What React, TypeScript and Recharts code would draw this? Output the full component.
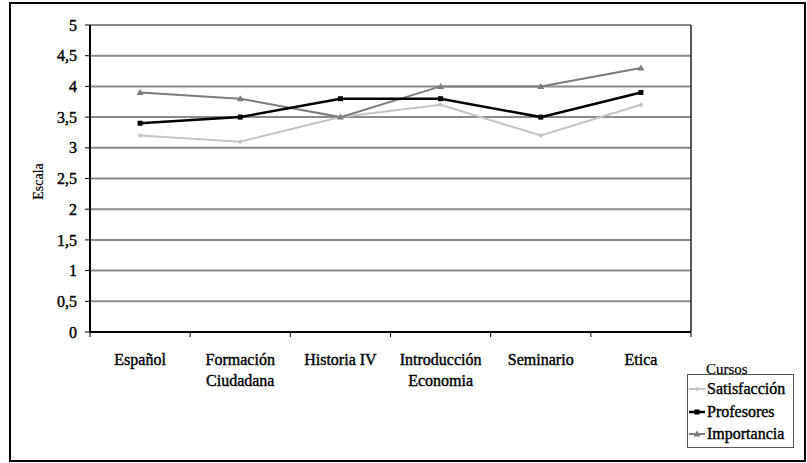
import React from 'react';
import { LineChart, Line, XAxis, YAxis, CartesianGrid } from 'recharts';

const categories = ['Español', 'Formación\nCiudadana', 'Historia IV', 'Introducción\nEconomia', 'Seminario', 'Etica'];
const satisfaccion = [3.2, 3.1, 3.5, 3.7, 3.2, 3.7];
const profesores = [3.4, 3.5, 3.8, 3.8, 3.5, 3.9];
const importancia = [3.9, 3.8, 3.5, 4.0, 4.0, 4.3];
const yTicks = [0, 0.5, 1, 1.5, 2, 2.5, 3, 3.5, 4, 4.5, 5];
const boundaryTicks = [0, 1, 2, 3, 4, 5, 6];
const centerTicks = [0.5, 1.5, 2.5, 3.5, 4.5, 5.5];

const series = [
  { key: 'satisfaccion', name: 'Satisfacción', color: '#c4c4c4', width: 2, marker: 'diamond' },
  { key: 'importancia', name: 'Importancia', color: '#7c7c7c', width: 2, marker: 'triangle' },
  { key: 'profesores', name: 'Profesores', color: '#000000', width: 2.5, marker: 'square' },
];
const legendOrder = ['satisfaccion', 'profesores', 'importancia'];

const data = categories.map((name, i) => ({
  name,
  pos: centerTicks[i],
  satisfaccion: satisfaccion[i],
  profesores: profesores[i],
  importancia: importancia[i],
}));

const FONT = 'Liberation Serif';

function Marker({ cx, cy, kind, color }: { cx?: number; cy?: number; kind: string; color: string }) {
  if (cx == null || cy == null) return null;
  if (kind === 'square') return <rect x={cx - 2.5} y={cy - 2.5} width={5} height={5} fill={color} />;
  if (kind === 'triangle')
    return <polygon points={`${cx},${cy - 3.5} ${cx + 3.5},${cy + 2.5} ${cx - 3.5},${cy + 2.5}`} fill={color} />;
  return <polygon points={`${cx},${cy - 2.5} ${cx + 2.5},${cy} ${cx},${cy + 2.5} ${cx - 2.5},${cy}`} fill={color} />;
}

function CatTick({ x, y, payload }: { x?: number; y?: number; payload?: { value: number } }) {
  const idx = centerTicks.indexOf(Number(payload?.value));
  const lines = String(categories[idx] ?? '').split('\n');
  return (
    <text x={x} y={y} textAnchor="middle" fontFamily={FONT} fontSize={16} fill="#000" stroke="#000" strokeWidth={0.4}>
      {lines.map((l, i) => (
        <tspan key={i} x={x} dy={i === 0 ? 25 : 21}>{l}</tspan>
      ))}
    </text>
  );
}

function EscalaLabel({ viewBox }: { viewBox?: { x: number; y: number; width: number; height: number } }) {
  if (!viewBox) return null;
  const cx = 38;
  const cy = viewBox.y + viewBox.height / 2 + 3;
  return (
    <text x={cx} y={cy} transform={`rotate(-90 ${cx} ${cy})`} textAnchor="middle" dominantBaseline="central"
      fontFamily={FONT} fontSize={14} fill="#000" stroke="#000" strokeWidth={0.2}>
      Escala
    </text>
  );
}

export default function App() {
  return (
    <div style={{ position: 'absolute', left: 0, top: 0, width: 807, height: 463, background: '#fff', fontFamily: FONT }}>
      <div style={{ position: 'absolute', left: 9, top: 2, width: 797, height: 460, border: '2px solid #000', boxSizing: 'border-box' }} />
      <LineChart width={807} height={463} data={data} margin={{ top: 25, right: 115, left: 30, bottom: 63 }}>
        <CartesianGrid xAxisId="a" yAxisId="l" vertical={false} stroke="#8a8a8a" strokeWidth={2} />
        <XAxis
          xAxisId="a"
          type="number"
          dataKey="pos"
          domain={[0, 6]}
          ticks={boundaryTicks}
          allowDataOverflow
          tick={() => <g />}
          tickSize={5}
          height={8}
          axisLine={{ stroke: '#000', strokeWidth: 2 }}
          tickLine={{ stroke: '#000' }}
        />
        <XAxis
          xAxisId="c"
          type="number"
          dataKey="pos"
          domain={[0, 6]}
          ticks={centerTicks}
          allowDataOverflow
          interval={0}
          axisLine={false}
          tickLine={false}
          tickSize={0}
          tickMargin={0}
          height={60}
          tick={<CatTick />}
        />
        <YAxis
          yAxisId="l"
          domain={[0, 5]}
          ticks={yTicks}
          width={60}
          tickSize={5}
          tickMargin={8}
          axisLine={{ stroke: '#000', strokeWidth: 2 }}
          tickLine={{ stroke: '#000' }}
          tick={{ fontFamily: FONT, fontSize: 16, fill: '#000', stroke: '#000', strokeWidth: 0.4 }}
          tickFormatter={(v: number) => String(v).replace('.', ',')}
          label={<EscalaLabel />}
        />
        <YAxis
          yAxisId="r"
          orientation="right"
          domain={[0, 5]}
          width={1}
          tick={false}
          tickLine={false}
          axisLine={{ stroke: '#222', strokeWidth: 1.5 }}
        />
        {series.map((s) => (
          <Line
            key={s.key}
            xAxisId="a"
            yAxisId="l"
            type="linear"
            dataKey={s.key}
            name={s.name}
            stroke={s.color}
            strokeWidth={s.width}
            dot={(p: any) => <Marker key={p.index} cx={p.cx} cy={p.cy} kind={s.marker} color={s.color} />}
            activeDot={false}
            isAnimationActive={false}
          />
        ))}
      </LineChart>
      <div style={{ position: 'absolute', left: 706, top: 361, fontSize: 15, color: '#000', WebkitTextStroke: '0.2px #000' }}>Cursos</div>
      <div
        style={{
          position: 'absolute', left: 687, top: 374, width: 107, height: 74, boxSizing: 'border-box',
          border: '1.5px solid #555', paddingTop: 3, fontSize: 16, WebkitTextStroke: '0.4px #000',
        }}
      >
        {legendOrder.map((k) => {
          const s = series.find((x) => x.key === k)!;
          return (
            <div key={k} style={{ display: 'flex', alignItems: 'center', height: 22.5, whiteSpace: 'nowrap' }}>
              <svg width={18} height={10} style={{ flex: 'none' }}>
                <line x1={1} y1={5} x2={17} y2={5} stroke={s.color} strokeWidth={s.width} />
                <Marker cx={9} cy={5} kind={s.marker} color={s.color} />
              </svg>
              <span style={{ marginLeft: 1 }}>{s.name}</span>
            </div>
          );
        })}
      </div>
    </div>
  );
}
